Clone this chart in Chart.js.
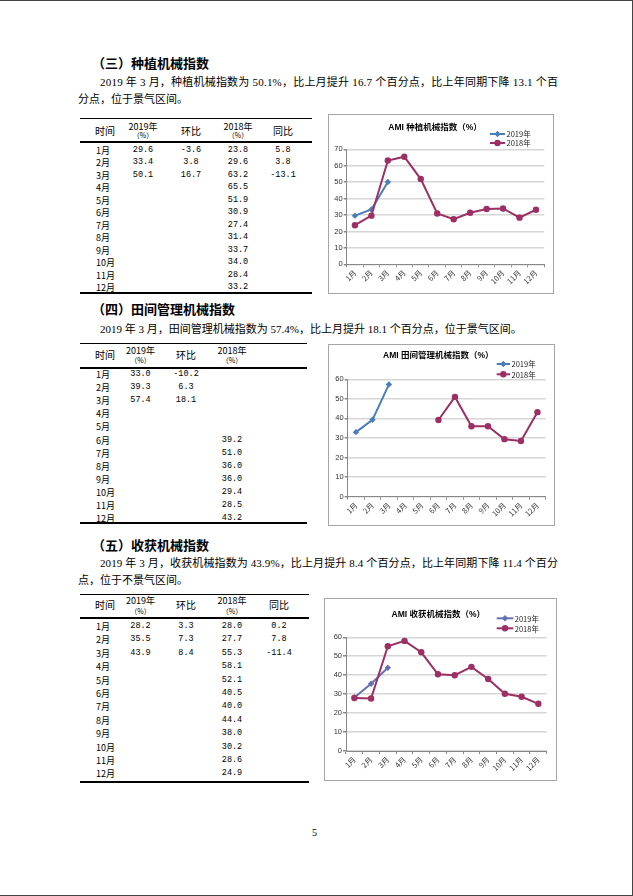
<!DOCTYPE html>
<html lang="zh-CN">
<head>
<meta charset="utf-8">
<title>AMI 指数</title>
<script src="https://cdn.jsdelivr.net/npm/chart.js@4.4.1/dist/chart.umd.min.js"></script>
<style>
  html, body { margin: 0; padding: 0; background: #fff; }
  #page { position: relative; width: 633px; height: 896px; overflow: hidden; color: #000;
          font-family: "Liberation Serif", "Noto Sans CJK SC", serif; }
  #frame { position: absolute; left: 0; top: 0; width: 633px; height: 896px; box-sizing: border-box;
           border-top: 1px solid #444; border-right: 1px solid #444; border-bottom: 1px solid #444; }
  .h { position: absolute; font-family: "Noto Sans CJK SC", sans-serif; font-weight: 700;
       font-size: 13px; line-height: 16px; white-space: nowrap; }
  .p { position: absolute; font-size: 11px; line-height: 14px; white-space: nowrap; }
  .rule { position: absolute; background: #000; }
  .cell { position: absolute; white-space: nowrap; line-height: 1; }
  .num { font-family: "Liberation Mono", monospace; font-size: 8.5px; }
  .zh { font-family: "Noto Sans CJK SC", sans-serif; font-size: 9px; }
  .hd { font-family: "Noto Sans CJK SC", sans-serif; font-size: 10px; }
  .sm { font-family: "Noto Sans CJK SC", sans-serif; font-size: 7px; }
  .box { position: absolute; border: 1px solid #a6a6a6; box-sizing: border-box; background: #fff; }
  .box canvas { position: absolute; left: 0; top: 0; }
  #pno { position: absolute; left: 312px; top: 827px; font-size: 10px; line-height: 12px; }
</style>
</head>
<body>
<div id="page">
  <div id="frame"></div>

  <div class="h" style="left:92px;top:55px">（三）种植机械指数</div>
  <div class="p" style="left:100px;top:75px" data-w="458">2019 年 3 月，种植机械指数为 50.1%，比上月提升 16.7 个百分点，比上年同期下降 13.1 个百</div>
  <div class="p" style="left:78px;top:92px">分点，位于景气区间。</div>

  <div class="h" style="left:92px;top:301px">（四）田间管理机械指数</div>
  <div class="p" style="left:100px;top:322px">2019 年 3 月，田间管理机械指数为 57.4%，比上月提升 18.1 个百分点，位于景气区间。</div>

  <div class="h" style="left:92px;top:537px">（五）收获机械指数</div>
  <div class="p" style="left:100px;top:556px" data-w="458">2019 年 3 月，收获机械指数为 43.9%，比上月提升 8.4 个百分点，比上年同期下降 11.4 个百分</div>
  <div class="p" style="left:78px;top:573px">点，位于不景气区间。</div>

  <div class="box" style="left:328px;top:114px;width:226px;height:180px"><canvas id="c1" width="224" height="178"></canvas></div>
  <div class="box" style="left:328px;top:344px;width:227px;height:182px"><canvas id="c2" width="225" height="180"></canvas></div>
  <div class="box" style="left:324px;top:598px;width:233px;height:183px"><canvas id="c3" width="231" height="181"></canvas></div>

  <div id="pno">5</div>
</div>

<script>
// ===== 数据 =====
const months = ["1月", "2月", "3月", "4月", "5月", "6月", "7月", "8月", "9月", "10月", "11月", "12月"];
const seriesLabels = ["2019年", "2018年"];

// 种植机械
const plant2019 = [29.6, 33.4, 50.1];
const plant2018 = [23.8, 29.6, 63.2, 65.5, 51.9, 30.9, 27.4, 31.4, 33.7, 34.0, 28.4, 33.2];
const plantMoM = [-3.6, 3.8, 16.7];
const plantYoY = [5.8, 3.8, -13.1];
const plantTicks = [0, 10, 20, 30, 40, 50, 60, 70];

// 田间管理机械
const field2019 = [33.0, 39.3, 57.4];
const field2018 = [null, null, null, null, null, 39.2, 51.0, 36.0, 36.0, 29.4, 28.5, 43.2];
const fieldMoM = [-10.2, 6.3, 18.1];
const fieldTicks = [0, 10, 20, 30, 40, 50, 60];

// 收获机械
const harvest2019 = [28.2, 35.5, 43.9];
const harvest2018 = [28.0, 27.7, 55.3, 58.1, 52.1, 40.5, 40.0, 44.4, 38.0, 30.2, 28.6, 24.9];
const harvestMoM = [3.3, 7.3, 8.4];
const harvestYoY = [0.2, 7.8, -11.4];
const harvestTicks = [0, 10, 20, 30, 40, 50, 60];

const color2018 = "#9c2f64";

// ===== 段落两端对齐 =====
document.querySelectorAll(".p[data-w]").forEach((el) => {
  const target = +el.dataset.w;
  const n = el.textContent.length;
  const natural = el.getBoundingClientRect().width;
  el.style.letterSpacing = ((target - natural) / (n - 1)) + "px";
});

// ===== 表格 =====
const page = document.getElementById("page");

function put(text, cls, x, y, center) {
  const d = document.createElement("div");
  d.className = "cell " + cls;
  d.textContent = text;
  d.style.left = x + "px";
  d.style.top = y + "px";
  d.style.transform = center ? "translate(-50%,-50%)" : "translate(0,-50%)";
  page.appendChild(d);
}

function rule(x, y, w, h) {
  const d = document.createElement("div");
  d.className = "rule";
  d.style.cssText = `left:${x}px;top:${y}px;width:${w}px;height:${h}px`;
  page.appendChild(d);
}

const fmt = (v) => (v === null || v === undefined ? "" : v.toFixed(1));

function buildTable(t, cols) {
  rule(t.left, t.top, t.right - t.left, 1.3);
  rule(t.left, t.headLine, t.right - t.left, 2);
  rule(t.left, t.bottom, t.right - t.left, 2);

  cols.forEach((c, i) => {
    const x = t.colX[i];
    if (c.head2) {
      put(c.head, "zh", x, t.h1, true);
      put(c.head2, "sm", x, t.h2, true);
    } else {
      put(c.head, "hd", x, t.hMid, true);
    }
    months.forEach((m, r) => {
      const y = t.row0 + r * t.step;
      if (i === 0) put(m, "zh", t.labelX, y, false);
      else if (c.values) put(fmt(c.values[r]), "num", x, y, true);
    });
  });
}

buildTable(
  { left: 80, right: 312, top: 118, headLine: 140.5, bottom: 292, h1: 126, h2: 134.5, hMid: 131,
    colX: [105, 143, 191, 238, 283], labelX: 96, row0: 149.5, step: 12.5 },
  [ { head: "时间" },
    { head: "2019年", head2: "（%）", values: plant2019 },
    { head: "环比", values: plantMoM },
    { head: "2018年", head2: "（%）", values: plant2018 },
    { head: "同比", values: plantYoY } ]
);

buildTable(
  { left: 80, right: 307, top: 343, headLine: 366.5, bottom: 522, h1: 349.5, h2: 359.5, hMid: 355,
    colX: [105, 140.5, 186, 232], labelX: 96, row0: 374, step: 13.1 },
  [ { head: "时间" },
    { head: "2019年", head2: "（%）", values: field2019 },
    { head: "环比", values: fieldMoM },
    { head: "2018年", head2: "（%）", values: field2018 } ]
);

buildTable(
  { left: 80, right: 309, top: 594, headLine: 616.5, bottom: 781, h1: 600, h2: 611, hMid: 605,
    colX: [105, 140.5, 186, 232, 279], labelX: 96, row0: 626, step: 13.4 },
  [ { head: "时间" },
    { head: "2019年", head2: "（%）", values: harvest2019 },
    { head: "环比", values: harvestMoM },
    { head: "2018年", head2: "（%）", values: harvest2018 },
    { head: "同比", values: harvestYoY } ]
);

// ===== 图表 =====
function drawMarker(ctx, style, r, x, y, color) {
  ctx.fillStyle = color;
  ctx.beginPath();
  if (style === "rectRot") {
    ctx.moveTo(x, y - r); ctx.lineTo(x + r, y); ctx.lineTo(x, y + r); ctx.lineTo(x - r, y);
    ctx.closePath();
  } else {
    ctx.arc(x, y, r, 0, Math.PI * 2);
  }
  ctx.fill();
}

// 标题 + 图例 (Excel 风格)
const boxTitle = {
  id: "boxTitle",
  afterDraw(chart, args, o) {
    const ctx = chart.ctx;
    ctx.save();
    ctx.fillStyle = "#000";
    ctx.font = 'bold 8.5px "Liberation Sans", "Noto Sans CJK SC"';
    ctx.textAlign = "center";
    ctx.textBaseline = "middle";
    ctx.fillText(o.text, o.x, o.y);

    ctx.font = '7.5px "Noto Sans CJK SC"';
    ctx.textAlign = "left";
    chart.data.datasets.forEach((ds, i) => {
      const y = o.ly + i * o.lgap;
      ctx.strokeStyle = ds.borderColor;
      ctx.lineWidth = 2;
      ctx.beginPath();
      ctx.moveTo(o.lx, y);
      ctx.lineTo(o.lx + o.lw, y);
      ctx.stroke();
      drawMarker(ctx, ds.pointStyle, ds.pointRadius, o.lx + o.lw / 2, y, ds.borderColor);
      ctx.fillStyle = "#222";
      ctx.fillText(ds.label, o.lx + o.lw + 1.5, y + 0.5);
    });
    ctx.restore();
  },
};

function makeChart(id, L, data2019, data2018, yTicks, color2019) {
  return new Chart(document.getElementById(id), {
    type: "line",
    data: {
      labels: months,
      datasets: [
        {
          label: seriesLabels[0],
          data: data2019,
          borderColor: color2019,
          backgroundColor: color2019,
          borderWidth: 2,
          pointStyle: "rectRot",
          pointRadius: 3.2,
          pointBackgroundColor: color2019,
          pointBorderWidth: 0,
          tension: 0,
          order: 1,
        },
        {
          label: seriesLabels[1],
          data: data2018,
          borderColor: color2018,
          backgroundColor: color2018,
          borderWidth: 2,
          pointStyle: "circle",
          pointRadius: 3.2,
          pointBackgroundColor: color2018,
          pointBorderWidth: 0,
          tension: 0,
          order: 0,
        },
      ],
    },
    options: {
      responsive: false,
      animation: false,
      layout: { padding: { top: L.top, right: L.right, left: 0, bottom: 0 } },
      scales: {
        x: {
          offset: true,
          afterFit: (s) => { s.height = L.xh; },
          ticks: {
            autoSkip: false, maxRotation: 45, minRotation: 45, padding: 1,
            color: "#333", font: { family: "Noto Sans CJK SC", size: 7.5 },
          },
          grid: { offset: true, drawOnChartArea: false, drawTicks: true, tickLength: 3, color: "#888" },
          border: { display: true, color: "#888", width: 1 },
        },
        y: {
          min: yTicks[0],
          max: yTicks[yTicks.length - 1],
          afterFit: (s) => { s.width = L.yw; },
          afterBuildTicks: (s) => { s.ticks = yTicks.map((v) => ({ value: v })); },
          ticks: { padding: 1, color: "#333", font: { family: "Liberation Sans", size: 7.5 } },
          grid: { color: "#d6d6d6", lineWidth: 1.5, tickColor: "#888", tickLength: 3 },
          border: { display: true, color: "#888", width: 1 },
        },
      },
      plugins: {
        legend: { display: false },
        tooltip: { enabled: false },
        boxTitle: L.title,
      },
    },
    plugins: [boxTitle],
  });
}

makeChart("c1",
  { top: 34.3, right: 8.8, yw: 17.7, xh: 28.7,
    title: { text: "AMI 种植机械指数（%）", x: 106, y: 12.5, lx: 161, lw: 15, ly: 19, lgap: 9 } },
  plant2019, plant2018, plantTicks, "#4a7ebb");

makeChart("c2",
  { top: 34.3, right: 8.3, yw: 18.7, xh: 28.3,
    title: { text: "AMI 田间管理机械指数（%）", x: 109.3, y: 11, lx: 167.7, lw: 13.3, ly: 19, lgap: 10.3 } },
  field2019, field2018, fieldTicks, "#4a7ebb");

makeChart("c3",
  { top: 38.3, right: 9.3, yw: 21, xh: 29,
    title: { text: "AMI 收获机械指数（%）", x: 113.3, y: 15.3, lx: 171.7, lw: 16.6, ly: 19.3, lgap: 10 } },
  harvest2019, harvest2018, harvestTicks, "#6670b0");
</script>
</body>
</html>
